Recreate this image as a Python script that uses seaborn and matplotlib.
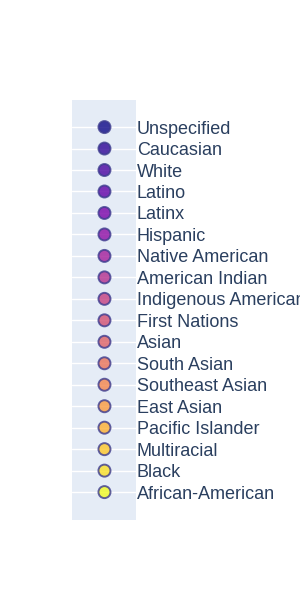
import matplotlib
matplotlib.use('Agg')
import matplotlib.pyplot as plt
import seaborn as sns
import pandas as pd
import numpy as np

# categories top to bottom
groups = ["Unspecified", "Caucasian", "White", "Latino", "Latinx", "Hispanic",
          "Native American", "American Indian", "Indigenous American",
          "First Nations", "Asian", "South Asian", "Southeast Asian",
          "East Asian", "Pacific Islander", "Multiracial", "Black",
          "African-American"]
x_vals = [0] * len(groups)

df = pd.DataFrame({"x": x_vals, "group": groups})

sns.set_style("white")
plt.rcParams['font.family'] = ['Liberation Sans', 'DejaVu Sans']

fig = plt.figure(figsize=(3, 6), dpi=100)
ax = fig.add_axes([0.24, 0.1333, 0.2133, 0.70])
ax.set_facecolor('#E5ECF6')

cols = plt.get_cmap('plasma')(np.linspace(0, 1, len(groups)))
palette = dict(zip(groups, [tuple(c[:3]) for c in cols]))

ypos = np.arange(len(groups))
for yy in ypos:
    ax.axhline(yy, color='white', lw=1, zorder=1)

sns.scatterplot(data=df, x="x", y=ypos, hue="group", palette=palette,
                s=75, alpha=0.8, edgecolor='#3b3a8e', linewidth=1.4,
                legend=False, ax=ax, zorder=3)

ax.set_xlim(-1.03, 1.0)
ax.set_ylim(len(groups) - 1 + 1.3, -1.26)
ax.set_xticks([])
ax.yaxis.tick_right()
ax.set_yticks(ypos)
ax.set_yticklabels(groups, fontsize=13, color='#2a3f5f')
ax.tick_params(axis='y', length=0, pad=0.5)
ax.set_xlabel("")
ax.set_ylabel("")
for sp in ax.spines.values():
    sp.set_visible(False)

fig.savefig("out.png", dpi=100)
